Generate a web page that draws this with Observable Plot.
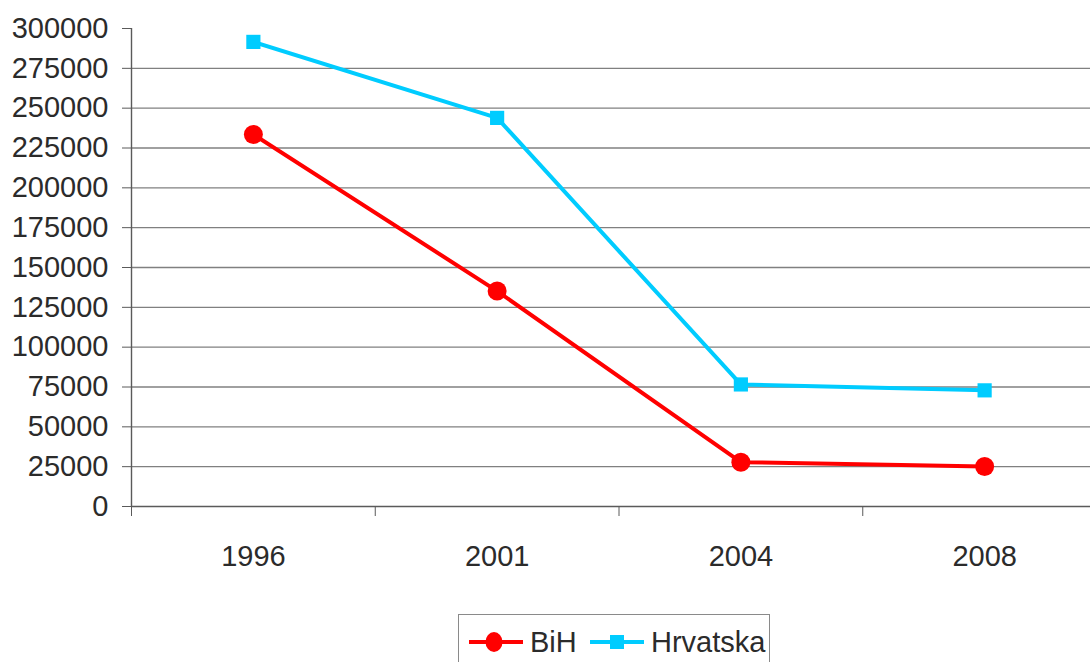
<!DOCTYPE html>
<html>
<head>
<meta charset="utf-8">
<script src="https://cdn.jsdelivr.net/npm/d3@7"></script>
<script src="https://cdn.jsdelivr.net/npm/@observablehq/plot@0.6"></script>
<style>
  html, body { margin: 0; padding: 0; background: #fff; overflow: hidden; }
  #wrap { position: relative; width: 1090px; height: 662px; font-family: "Liberation Sans", Arial, sans-serif; }
  #legend { position: absolute; left: 458px; top: 614px; width: 312px; height: 60px; box-sizing: border-box; border: 1.5px solid #8a8a8a; border-bottom: none; }
</style>
</head>
<body>
<div id="wrap"><div id="chart"></div><div id="legend"></div></div>
<script>
const years = ["1996", "2001", "2004", "2008"];
const seriesNames = ["BiH", "Hrvatska"];
const bih = [233500, 135200, 27800, 25100];
const hrvatska = [291600, 243900, 76600, 72900];
const yTicks = d3.range(0, 300001, 25000);
const colors = ["#FF0000", "#00CCFF"];

const bihData = years.map((y, i) => ({ i: i + 0.5, v: bih[i] }));
const hrvData = years.map((y, i) => ({ i: i + 0.5, v: hrvatska[i] }));

const textColor = "#2b2b2b";
const axisColor = "#5a5a5a";

const chart = Plot.plot({
  width: 1090,
  height: 600,
  marginLeft: 131,
  marginRight: 0,
  marginTop: 28,
  marginBottom: 94,
  x: { type: "linear", domain: [0, years.length], range: [131, 1106] },
  y: { domain: [0, 300000] },
  style: { fontFamily: "'Liberation Sans', Arial, sans-serif", fontSize: "29px", color: textColor, background: "#fff" },
  marks: [
    Plot.ruleY(yTicks.filter(v => v > 0 && v < 300000), { stroke: "#808080", strokeWidth: 1.4 }),
    Plot.ruleY([0], { stroke: axisColor, strokeWidth: 1.6 }),
    Plot.ruleX([0], { y1: 0, y2: 300000, stroke: axisColor, strokeWidth: 1.4 }),
    Plot.axisY({ ticks: yTicks, tickSize: 9, tickPadding: 14, tickFormat: d => String(d), label: null, stroke: axisColor, fill: textColor }),
    Plot.axisX({ ticks: d3.range(0, years.length + 1), tickSize: 10, tickFormat: () => "", label: null, stroke: axisColor }),
    Plot.axisX({ ticks: years.map((y, i) => i + 0.5), tickSize: 0, tickPadding: 39, tickFormat: d => years[Math.floor(d)], label: null, fill: textColor }),
    Plot.line(hrvData, { x: "i", y: "v", stroke: colors[1], strokeWidth: 4 }),
    Plot.line(bihData, { x: "i", y: "v", stroke: colors[0], strokeWidth: 4 }),
    Plot.dot(hrvData, { x: "i", y: "v", symbol: "square", r: 8, fill: colors[1], stroke: "none" }),
    Plot.dot(bihData, { x: "i", y: "v", r: 9.5, fill: colors[0], stroke: "none" })
  ]
});
document.getElementById("chart").appendChild(chart);

// Legend (HTML/SVG below the chart)
const ns = "http://www.w3.org/2000/svg";
const lsvg = document.createElementNS(ns, "svg");
lsvg.setAttribute("width", 312);
lsvg.setAttribute("height", 60);
lsvg.style.display = "block";
const items = [
  { name: seriesNames[0], color: colors[0], x0: 10, x1: 64, mx: 35, tx: 71, marker: "circle" },
  { name: seriesNames[1], color: colors[1], x0: 131, x1: 185, mx: 158, tx: 192, marker: "square" }
];
items.forEach(it => {
  const ln = document.createElementNS(ns, "line");
  ln.setAttribute("x1", it.x0); ln.setAttribute("x2", it.x1);
  ln.setAttribute("y1", 27); ln.setAttribute("y2", 27);
  ln.setAttribute("stroke", it.color); ln.setAttribute("stroke-width", 4);
  lsvg.appendChild(ln);
  let m;
  if (it.marker === "circle") {
    m = document.createElementNS(ns, "ellipse");
    m.setAttribute("cx", it.mx); m.setAttribute("cy", 27);
    m.setAttribute("rx", 8.5); m.setAttribute("ry", 10);
  } else {
    m = document.createElementNS(ns, "rect");
    m.setAttribute("x", it.mx - 7); m.setAttribute("y", 20);
    m.setAttribute("width", 14); m.setAttribute("height", 14);
  }
  m.setAttribute("fill", it.color);
  lsvg.appendChild(m);
  const t = document.createElementNS(ns, "text");
  t.setAttribute("x", it.tx); t.setAttribute("y", 37);
  t.setAttribute("font-size", 29);
  t.setAttribute("font-family", "'Liberation Sans', Arial, sans-serif");
  t.setAttribute("fill", textColor);
  t.textContent = it.name;
  lsvg.appendChild(t);
});
document.getElementById("legend").appendChild(lsvg);
</script>
</body>
</html>
